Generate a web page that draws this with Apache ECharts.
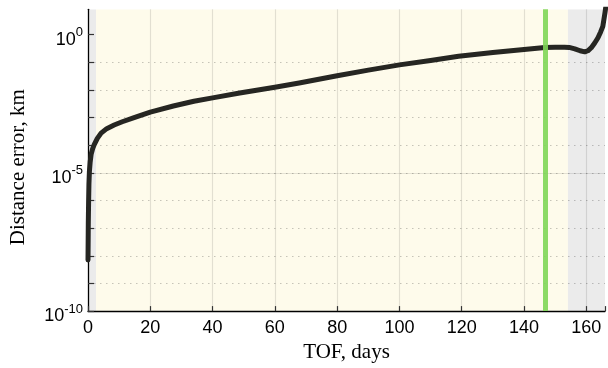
<!DOCTYPE html>
<html>
<head>
<meta charset="utf-8">
<script src="https://cdn.jsdelivr.net/npm/echarts@6/dist/echarts.min.js"></script>
<style>
  html, body { margin: 0; padding: 0; background: #fff; }
  #chart { width: 608px; height: 368px; }
</style>
</head>
<body>
<div id="chart"></div>
<script>
// Time of flight (days) and distance error (km) of the propagated trajectory
const tofDays = [0, 0.05, 0.1, 0.2, 0.3, 0.45, 0.7, 1.0, 1.5, 2.0, 3.0, 4.2, 6.0, 8.4, 11, 14.8, 20, 27.4, 34, 40, 48.7, 60, 67.8, 80, 90, 100, 110, 119, 130, 140, 146.7, 150, 153, 154.5, 156.3, 158, 159.5, 160.5, 161.6, 162.7, 163.7, 164.6, 165.3, 166, 166.5];
const distErrorKm = [7.1e-9, 3.2e-8, 1.6e-7, 1.0e-6, 4.0e-6, 1.12e-5, 2.5e-5, 4.7e-5, 7.6e-5, 1.05e-4, 1.78e-4, 2.75e-4, 4.0e-4, 5.4e-4, 7.1e-4, 1.0e-3, 1.58e-3, 2.63e-3, 3.9e-3, 5.2e-3, 7.8e-3, 1.26e-2, 1.8e-2, 3.27e-2, 5.25e-2, 8.1e-2, 0.117, 0.166, 0.229, 0.292, 0.343, 0.355, 0.355, 0.347, 0.309, 0.263, 0.240, 0.263, 0.339, 0.50, 0.76, 1.26, 2.0, 6.3, 16];

// Highlighted epoch (days)
const markerDay = 146.7;

// Background bands in days: [start, end]
const bandStart = [0, 2.6, 154.1];
const bandEnd = [2.6, 154.1, 166];
const bandColors = ['#ebebeb', '#fefbeb', '#ebebeb'];

// Axis ranges: x in days, y in decades (log10 km)
const xMin = 0, xMax = 166;
const yMinExp = -10, yMaxExp = 0.92;
const yDecades = [-10, -9, -8, -7, -6, -5, -4, -3, -2, -1, 0];
const yLabelDecades = [-10, -5, 0];

const curve = tofDays.map((d, i) => [d, Math.log10(distErrorKm[i])]);
const bands = bandStart.map((s, i) => [s, bandEnd[i]]);

const chart = echarts.init(document.getElementById('chart'), null, { renderer: 'canvas' });

const labelFont = 'Liberation Sans, Arial, sans-serif';
const nameFont = 'Liberation Serif, Times New Roman, serif';

chart.setOption({
  animation: false,
  backgroundColor: '#ffffff',
  grid: { left: 87.7, right: 1, top: 9.3, bottom: 53.7, containLabel: false },
  xAxis: {
    type: 'value', min: xMin, max: xMax, interval: 20, z: 0,
    name: 'TOF, days', nameLocation: 'middle', nameGap: 24,
    nameTextStyle: { fontFamily: nameFont, fontSize: 21, color: '#000' },
    axisLine: { show: true, onZero: false, lineStyle: { color: '#000', width: 1.3 } },
    axisTick: { show: true, inside: true, length: 5, lineStyle: { color: '#333', width: 1.2 } },
    axisLabel: {
      margin: 8, fontFamily: labelFont, fontSize: 18, color: '#000',
      formatter: v => (v % 20 === 0 ? String(v) : '')
    },
    splitLine: { show: true, showMaxLine: false, showMinLine: false, lineStyle: { color: 'rgba(0,0,0,0.11)', width: 1.2 } }
  },
  yAxis: [
    {
      type: 'value', min: yMinExp, max: yMaxExp, interval: 1, z: 0,
      name: 'Distance error, km', nameLocation: 'middle', nameGap: 59,
      nameTextStyle: { fontFamily: nameFont, fontSize: 21, color: '#000', padding: [0, 14, 0, 0] },
      axisLine: { show: true, onZero: false, lineStyle: { color: '#000', width: 1.3 } },
      axisTick: { show: true, inside: true, length: 6, customValues: yDecades, lineStyle: { color: '#333', width: 1.2 } },
      axisLabel: {
        margin: 5, customValues: yLabelDecades,
        formatter: v => '{b|10}{s|' + v + '}',
        rich: {
          b: { fontFamily: labelFont, fontSize: 18, color: '#000', padding: [10, 0, 0, 0] },
          s: { fontFamily: labelFont, fontSize: 13, color: '#000', padding: [0, 0, 4, 0] }
        }
      },
      splitLine: { show: true, showMaxLine: false, showMinLine: false, lineStyle: { color: 'rgba(0,0,0,0.22)', width: 1.2, type: [1.5, 4.5] } }
    },
    {
      type: 'value', min: yMinExp, max: yMaxExp, z: 0,
      axisLine: { show: false, onZero: false },
      axisTick: { show: false, customValues: yLabelDecades },
      axisLabel: { show: false },
      splitLine: { show: true, showMaxLine: false, showMinLine: false, lineStyle: { color: 'rgba(0,0,0,0.1)', width: 1.2 } }
    }
  ],
  series: [
    {
      type: 'custom', z: -1, silent: true, clip: true,
      data: bands,
      encode: { x: [0, 1] },
      renderItem: (params, api) => {
        const p0 = api.coord([api.value(0), yMaxExp]);
        const p1 = api.coord([api.value(1), yMinExp]);
        return {
          type: 'rect',
          shape: { x: p0[0], y: p0[1], width: p1[0] - p0[0], height: p1[1] - p0[1] },
          style: { fill: bandColors[params.dataIndex] }
        };
      }
    },
    {
      type: 'line', z: 2, data: curve, showSymbol: false, clip: true,
      smooth: false,
      lineStyle: { color: '#262622', width: 5, cap: 'round', join: 'round' },
      markLine: {
        silent: true, symbol: ['none', 'none'], label: { show: false },
        lineStyle: { color: 'rgba(128,214,88,0.9)', width: 5, type: 'solid' },
        data: [{ xAxis: markerDay }]
      }
    }
  ]
});
</script>
</body>
</html>
